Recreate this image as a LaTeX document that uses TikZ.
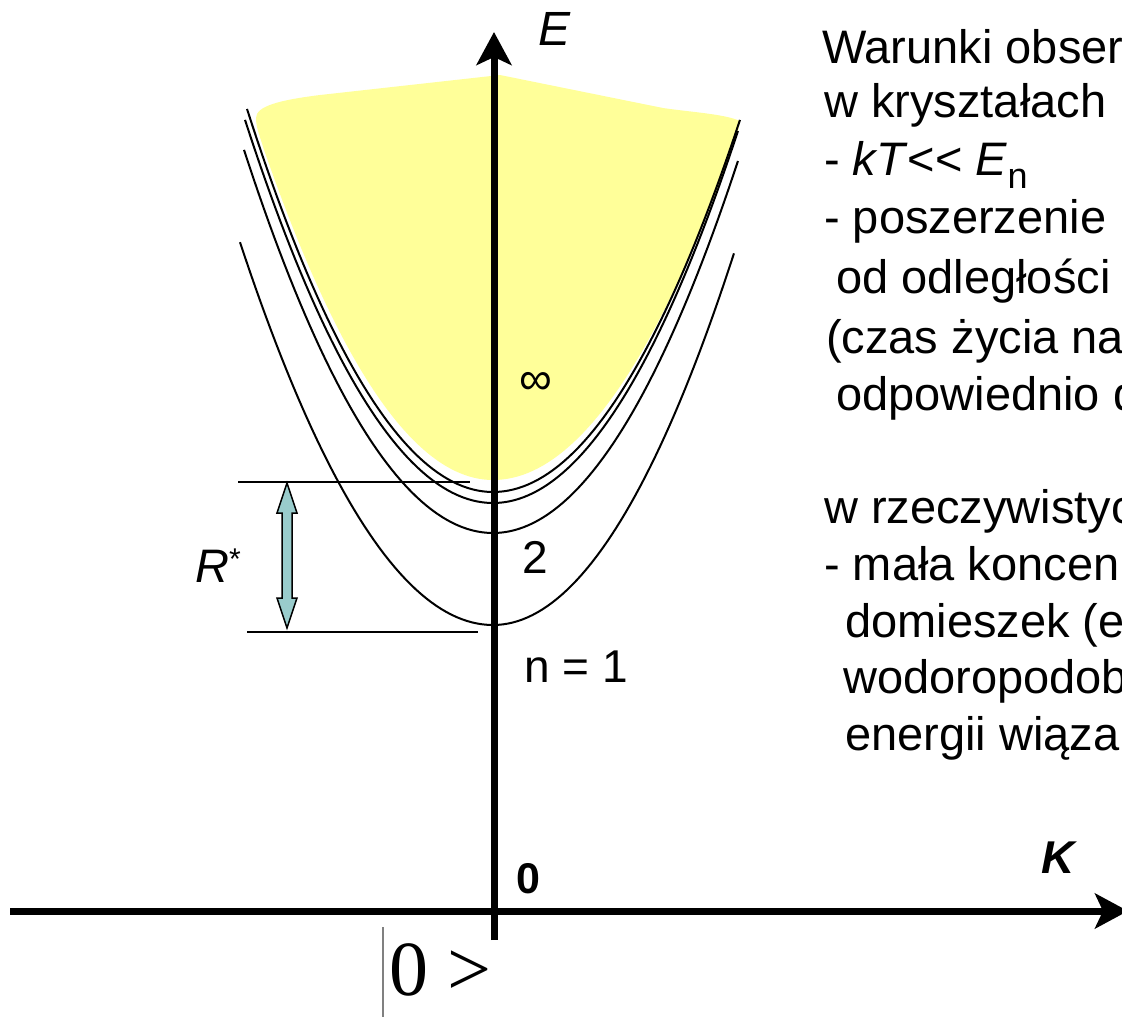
\documentclass[tikz,border=0pt]{standalone}
\usepackage{fontspec}
\setmainfont{Liberation Sans}
\newfontfamily\serifA{Liberation Serif}
\usetikzlibrary{arrows.meta}
\definecolor{fillY}{HTML}{FFFF99}
\definecolor{fillT}{HTML}{99CCCC}
\begin{document}
\begin{tikzpicture}[x=1pt,y=-1pt,
  curve/.style={line width=2pt,black},
  axisline/.style={line width=7pt,-{Stealth[length=33pt,width=35pt,inset=8pt]}},
  rline/.style={line width=2.2pt},
  txt/.style={anchor=base west,inner sep=0pt,font=\fontsize{47}{57}\selectfont},
  lbl/.style={inner sep=0pt,font=\fontsize{46}{55}\selectfont}]
\useasboundingbox (0,0) rectangle (1122,1018);
\clip (0,0) rectangle (1122,1018);
% yellow continuum region (\x in units of 100 px)
\fill[fillY] plot[domain=-2.29:0,samples=50] ({493+100*\x},{480-63*\x*\x})
  -- plot[domain=0:2.45,samples=50] ({493+100*\x},{480-58*\x*\x})
  -- (740,121) .. controls (725,114) and (690,112) .. (663,108)
  -- (500,75) -- (320,95) .. controls (280,100) and (256,106) .. (256,118)
  .. controls (256,128) and (260,136) .. (264,150) -- cycle;
% R* reference lines
\coordinate (r1a) at (238,482); \coordinate (r1b) at (470,482);
\coordinate (r2a) at (247,632); \coordinate (r2b) at (478,632);
\draw[rline] (r1a) -- (r1b);
\draw[rline] (r2a) -- (r2b);
% exciton bands
\draw[curve] plot[domain=-2.53:0,samples=50] ({493+100*\x},{625-59.8*\x*\x})
  -- plot[domain=0:2.41,samples=50] ({493+100*\x},{625-64*\x*\x});
\draw[curve] plot[domain=-2.49:0,samples=50] ({493+100*\x},{533-61.8*\x*\x})
  -- plot[domain=0:2.45,samples=50] ({493+100*\x},{533-62*\x*\x});
\draw[curve] plot[domain=-2.48:0,samples=50] ({493+100*\x},{503-62.3*\x*\x})
  -- plot[domain=0:2.45,samples=50] ({493+100*\x},{503-62*\x*\x});
\draw[curve] plot[domain=-2.46:0,samples=50] ({493+100*\x},{492-63.3*\x*\x})
  -- plot[domain=0:2.47,samples=50] ({493+100*\x},{492-61*\x*\x});
% double arrow R*
\draw[line width=1.5pt,fill=fillT,line join=miter]
  (287,483) -- (297,513) -- (292,513) -- (292,598) -- (297,598) -- (287,628)
  -- (277,598) -- (282,598) -- (282,513) -- (277,513) -- cycle;
% axes
\coordinate (ybot) at (494,940); \coordinate (ytop) at (494,32);
\coordinate (xl) at (10,911); \coordinate (xr) at (1128,911);
\draw[axisline] (ybot) -- (ytop);
\draw[axisline] (xl) -- (xr);
% ket bar
\coordinate (kb1) at (383,927); \coordinate (kb2) at (383,1017);
\draw[gray,line width=1.5pt] (kb1) -- (kb2);
% labels
\node[lbl,anchor=base west,font=\fontsize{48}{55}\selectfont\itshape] (E) at (538,45) {E};
\node[lbl,anchor=base,font=\fontsize{46}{55}\selectfont\bfseries\itshape] (K) at (1058,873) {K};
\node[lbl,anchor=base,font=\fontsize{43}{50}\selectfont\bfseries] (zero) at (528,893) {0};
\node[lbl,anchor=base west,font=\fontsize{78}{80}\selectfont\serifA] (ket) at (389,995) {0 >};
\node[lbl] (inf) at (536,383) {∞};
\node[lbl,anchor=base] (two) at (535,573) {2};
\node[lbl,anchor=base west] (n1) at (524,682) {n = 1};
\node[lbl,anchor=base west,font=\fontsize{47}{55}\selectfont] (R) at (195,582) {\textit{R}\raisebox{13pt}{\fontsize{30}{30}\selectfont *}};
% text block
\node[txt] (t1) at (822,63) {Warunki obser};
\node[txt] (t2) at (824,117) {w kryształach};
\node[txt] (t3) at (824,175) {- \textit{kT}<{}< \textit{E}\raisebox{-13pt}{\fontsize{36}{36}\selectfont n}};
\node[txt] (t4) at (824,233) {- poszerzenie};
\node[txt] (t5) at (836,293) {od odległości};
\node[txt] (t6) at (826,353) {(czas życia na};
\node[txt] (t7) at (836,410) {odpowiednio d};
\node[txt] (t8) at (824,523) {w rzeczywistyc};
\node[txt] (t9) at (824,580) {- mała koncen};
\node[txt] (t10) at (845,637) {domieszek (e};
\node[txt] (t11) at (843,693) {wodoropodob};
\node[txt] (t12) at (845,750) {energii wiąza};
\end{tikzpicture}
\end{document}
